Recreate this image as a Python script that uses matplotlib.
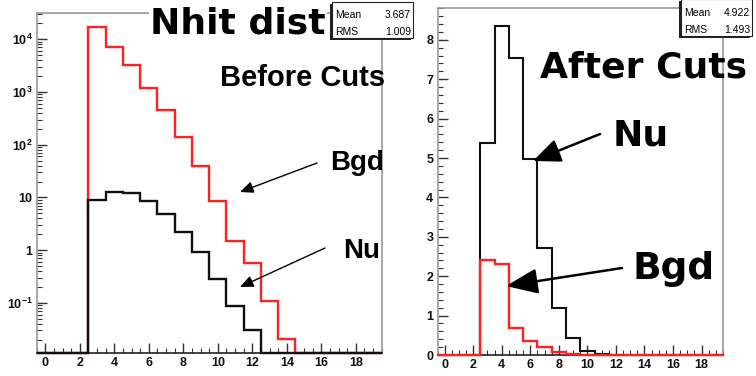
import numpy as np
import matplotlib.pyplot as plt
from matplotlib.patches import Rectangle, FancyArrowPatch
from matplotlib.ticker import FixedLocator, FixedFormatter, MultipleLocator, LogLocator, NullFormatter

plt.rcParams['font.family'] = ['Liberation Sans', 'DejaVu Sans']
plt.rcParams['font.weight'] = 'bold'
plt.rcParams['mathtext.fontset'] = 'custom'
plt.rcParams['mathtext.rm'] = 'Liberation Sans:bold'
plt.rcParams['mathtext.it'] = 'Liberation Sans:bold'
plt.rcParams['mathtext.bf'] = 'Liberation Sans:bold'
plt.rcParams['mathtext.default'] = 'rm'

# Nhit bins 0..19 (one bin per integer)
nhit = np.arange(0, 20)
bgd_before = [0, 0, 0, 17000, 7100, 3200, 1200, 450, 140, 40, 8.5, 1.5, 0.57, 0.11, 0.021, 0, 0, 0, 0, 0]
nu_before = [0, 0, 0, 9.0, 12.9, 12.3, 8.7, 4.9, 2.2, 0.92, 0.28, 0.087, 0.03, 0, 0, 0, 0, 0, 0, 0]
nu_after = [0, 0, 0, 5.39, 8.35, 7.53, 4.97, 2.71, 1.19, 0.42, 0.10, 0.03, 0.01, 0, 0, 0, 0, 0, 0, 0]
bgd_after = [0, 0, 0, 2.41, 2.30, 0.69, 0.36, 0.21, 0.08, 0.03, 0.01, 0, 0, 0, 0, 0, 0, 0, 0, 0]

x_ticks = [0, 2, 4, 6, 8, 10, 12, 14, 16, 18]
log_ticks = [0.1, 1, 10, 100, 1000, 10000]
log_labels = ['$10^{-1}$', '1', '10', '$10^{2}$', '$10^{3}$', '$10^{4}$']

stats_before = ('3.687', '1.009')
stats_after = ('4.922', '1.493')

RED = '#ff2020'
BLK = '#101010'

W, H = 756, 376
def fx(x):
    return x / W
def fy(y):
    return 1 - y / H

edges = np.append(nhit - 0.5, nhit[-1] + 0.5)

fig = plt.figure(figsize=(W / 100, H / 100), dpi=100)
ax1 = fig.add_axes([fx(36.7), fy(353), (381.7 - 36.7) / W, (353 - 13.3) / H])
ax2 = fig.add_axes([fx(437.5), fy(355), (723 - 437.5) / W, (355 - 8.3) / H])

# left: before cuts, log scale
ylo, yhi = 0.0112, 3.1e4
ax1.set_yscale('log')
ax1.stairs(np.maximum(bgd_before, ylo), edges, baseline=None, color=RED, lw=1.7, clip_on=False, zorder=3)
ax1.stairs(np.maximum(nu_before, ylo), edges, baseline=None, color=BLK, lw=1.7, clip_on=False, zorder=4)
ax1.set_ylim(ylo, yhi)
ax1.yaxis.set_major_locator(FixedLocator(log_ticks))
ax1.yaxis.set_major_formatter(FixedFormatter(log_labels))
ax1.yaxis.set_minor_locator(LogLocator(subs=np.arange(2, 10), numticks=20))
ax1.yaxis.set_minor_formatter(NullFormatter())

# right: after cuts, linear
ax2.stairs(nu_after, edges, baseline=None, color=BLK, lw=1.5, clip_on=False, zorder=3)
ax2.stairs(bgd_after, edges, baseline=None, color=RED, lw=1.7, clip_on=False, zorder=4)
ax2.set_ylim(0, 8.8)
ax2.yaxis.set_major_locator(MultipleLocator(1))
ax2.yaxis.set_minor_locator(MultipleLocator(0.2))

for ax in (ax1, ax2):
    ax.set_xlim(edges[0], edges[-1])
    ax.set_xticks(x_ticks)
    ax.xaxis.set_minor_locator(MultipleLocator(0.5))
    ax.tick_params(which='both', direction='in', top=False, right=False, colors='#333333', labelcolor='#111111')
    ax.tick_params(which='major', length=7, width=1, labelsize=9, pad=3)
    ax.tick_params(which='minor', length=3.5, width=0.8)
    for s in ax.spines.values():
        s.set_color('#9a9a9a')
        s.set_linewidth(1.2)
    ax.spines['bottom'].set_color('#222222')

# titles and labels
fig.text(fx(150), fy(33), 'Nhit dist', family='DejaVu Sans', weight='bold', fontsize=26,
         va='baseline', ha='left', bbox=dict(facecolor='white', edgecolor='none', pad=1))
fig.text(fx(220), fy(86), 'Before Cuts', fontsize=21, va='baseline', ha='left')
fig.text(fx(330), fy(170), 'Bgd', fontsize=20, va='baseline', ha='left')
fig.text(fx(343), fy(258), 'Nu', fontsize=20, va='baseline', ha='left')

fig.text(fx(540), fy(78), 'After Cuts', family='DejaVu Sans', weight='bold', fontsize=26, va='baseline', ha='left')
fig.text(fx(613), fy(145), 'Nu', family='DejaVu Sans', weight='bold', fontsize=26, va='baseline', ha='left')
fig.text(fx(633), fy(279), 'Bgd', family='DejaVu Sans', weight='bold', fontsize=27, va='baseline', ha='left')

# arrows
def arrow(tip, tail, lw, head, scale):
    fig.add_artist(FancyArrowPatch(
        (fx(tail[0]), fy(tail[1])), (fx(tip[0]), fy(tip[1])), transform=fig.transFigure,
        arrowstyle=head, mutation_scale=scale, color='black', lw=lw, shrinkA=0, shrinkB=0, zorder=6))

arrow((240, 192), (317, 163), 1.0, '-|>,head_length=0.8,head_width=0.35', 10)
arrow((240, 287), (325, 248), 1.0, '-|>,head_length=0.8,head_width=0.35', 10)
arrow((533, 161), (600, 134), 1.8, '-|>,head_length=1.4,head_width=0.6', 12)
arrow((506, 286), (622, 268), 1.8, '-|>,head_length=1.5,head_width=0.6', 13)

# stats boxes
def stats_box(x0, y0, x1, y1, vals):
    fig.add_artist(Rectangle((fx(x0 - 2), fy(y1 + 2)), (x1 - x0) / W, (y1 - y0) / H,
                             transform=fig.transFigure, facecolor='#222222', edgecolor='none', zorder=7))
    fig.add_artist(Rectangle((fx(x0), fy(y1)), (x1 - x0) / W, (y1 - y0) / H,
                             transform=fig.transFigure, facecolor='white', edgecolor='#222222', lw=0.8, zorder=8))
    rows = ['Mean', 'RMS']
    ym = [(y0 + (y1 - y0) * 0.45), (y0 + (y1 - y0) * 0.92)]
    for r, v, yy in zip(rows, vals, ym):
        fig.text(fx(x0 + 3), fy(yy), r, fontsize=7.5, weight='normal', va='baseline', ha='left', zorder=9)
        fig.text(fx(x1 - 2), fy(yy), v, fontsize=7.5, weight='normal', va='baseline', ha='right', zorder=9)

stats_box(332, 2, 413, 38, stats_before)
stats_box(681, -1, 752, 36, stats_after)

fig.savefig('out.png', dpi=100)
